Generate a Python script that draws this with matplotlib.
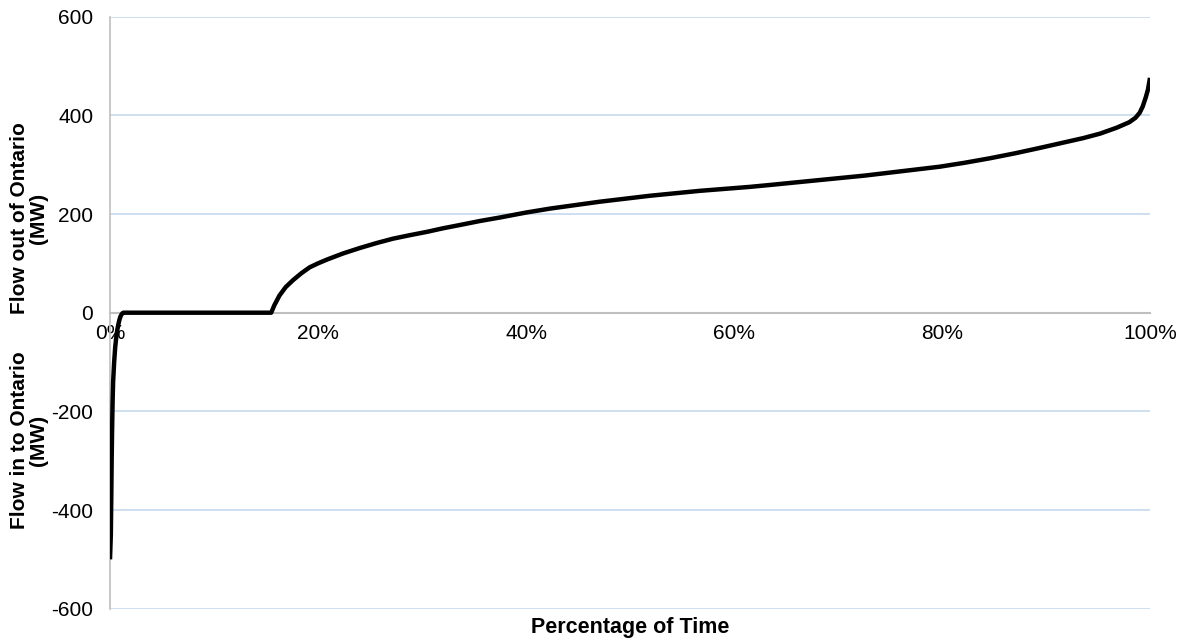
import matplotlib
matplotlib.use("Agg")
import matplotlib.pyplot as plt

plt.rcParams['font.family'] = ['Liberation Sans', 'DejaVu Sans']
plt.rcParams['axes.unicode_minus'] = False

# Duration curve (percentage of time, MW)
pct_time = [0, 0.08, 0.12, 0.16, 0.2, 0.25, 0.3, 0.4, 0.5, 0.6, 0.7, 0.8, 0.9,
            1.0, 1.1, 1.2, 1.3, 15.5, 15.8, 16.3, 16.9, 17.6, 18.4, 19.2, 20.0,
            20.9, 22.4, 24.0, 25.6, 27.2, 28.8, 30.5, 32.0, 33.7, 35.6, 37.5,
            40.0, 42.3, 44.7, 47.1, 49.5, 51.9, 54.3, 56.7, 59.1, 61.5, 63.5,
            65.4, 67.8, 70.2, 72.6, 75.0, 77.4, 79.8, 82.2, 84.6, 87.0, 89.4,
            91.5, 93.6, 95.2, 96.8, 98.0, 98.6, 99.0, 99.3, 99.6, 99.8, 100]
flow_mw = [-500, -450, -380, -300, -240, -180, -140, -100, -70, -50, -35, -24, -15,
           -8, -4, -1, 0, 0, 15, 35, 52, 66, 80, 92, 100,
           108, 120, 131, 141, 150, 157, 164, 171, 178, 186, 193,
           203, 211, 218, 225, 231, 237, 242, 247, 251, 255, 259,
           263, 268, 273, 278, 284, 290, 296, 304, 313, 323, 334,
           344, 354, 363, 375, 386, 395, 405, 418, 437, 452, 476]

y_ticks = [-600, -400, -200, 0, 200, 400, 600]
x_ticks = [0, 20, 40, 60, 80, 100]
x_tick_labels = ['0%', '20%', '40%', '60%', '80%', '100%']

fig = plt.figure(figsize=(11.85, 6.39), dpi=100)
ax = fig.add_axes([110/1185, 1 - 608.7/639, 1040/1185, (608.7 - 16.7)/639])

ax.plot(pct_time, flow_mw, color='black', lw=3.2, solid_joinstyle='round',
        solid_capstyle='butt', zorder=5)

ax.set_xlim(0, 100)
ax.set_ylim(-600, 600)
ax.set_yticks(y_ticks)
ax.set_xticks(x_ticks)
ax.set_xticklabels(x_tick_labels)

ax.grid(axis='y', color='#c6d9ee', lw=1.2)
ax.set_axisbelow(True)

for s in ['top', 'right']:
    ax.spines[s].set_visible(False)
ax.spines['left'].set_color('#bfbfbf')
ax.spines['left'].set_linewidth(1.2)
ax.spines['bottom'].set_position(('data', 0))
ax.spines['bottom'].set_color('#bfbfbf')
ax.spines['bottom'].set_linewidth(1.5)
ax.spines['bottom'].set_zorder(3)

ax.tick_params(axis='y', length=0, pad=12, labelsize=15, colors='#000000')
ax.tick_params(axis='x', length=0, pad=8, labelsize=15)

fig.text(630/1185, 1 - 627/639, 'Percentage of Time', ha='center', va='center',
         fontsize=15.5, fontweight='bold')
fig.text(29/1185, 1 - 218/639, 'Flow out of Ontario\n(MW)', ha='center',
         va='center', rotation=90, fontsize=15, fontweight='bold',
         multialignment='center', linespacing=1.0)
fig.text(29/1185, 1 - 440/639, 'Flow in to Ontario\n(MW)', ha='center',
         va='center', rotation=90, fontsize=15, fontweight='bold',
         multialignment='center', linespacing=1.0)

fig.savefig('out.png', dpi=100, facecolor='white')
